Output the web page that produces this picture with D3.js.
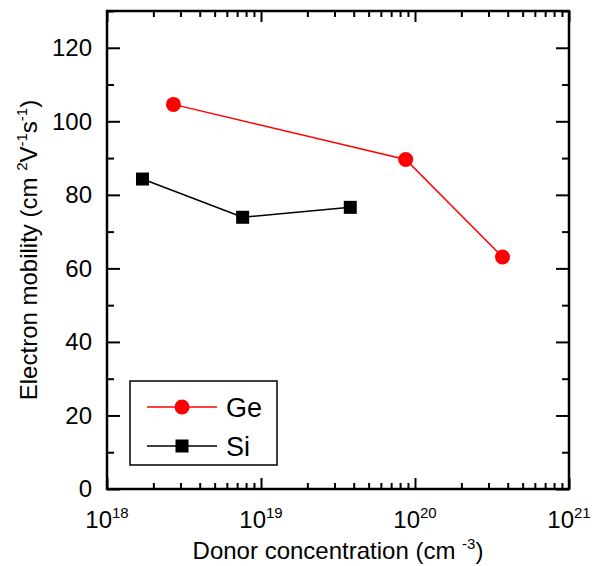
<!DOCTYPE html>
<html>
<head>
<meta charset="utf-8">
<script src="https://cdn.jsdelivr.net/npm/d3@7"></script>
<style>
  body { margin: 0; background: #fff; }
  svg { display: block; font-family: "Liberation Sans", Arial, Helvetica, sans-serif; }
</style>
</head>
<body>
<div id="chart"></div>
<script>
// values
const geConc = [2.7e18, 8.7e19, 3.7e20];
const geMob = [104.6, 89.6, 63.1];
const siConc = [1.7e18, 7.6e18, 3.8e19];
const siMob = [84.3, 73.9, 76.6];
const yMajor = [0, 20, 40, 60, 80, 100, 120];
const yMinor = [10, 30, 50, 70, 90, 110, 130];
const xMajor = [1e18, 1e19, 1e20, 1e21];
const xExp = ["18", "19", "20", "21"];
const series = [
  {name: "Ge", conc: geConc, mob: geMob, color: "#ff0000", shape: "circle"},
  {name: "Si", conc: siConc, mob: siMob, color: "#000000", shape: "square"}
];

let W = 600, H = 566,
  m = {left: 107, right: 31, top: 11, bottom: 77},
  svg = d3.select("#chart").append("svg")
    .attr("width", W).attr("height", H),
  x = d3.scaleLog().domain([1e18, 1e21]).range([m.left, W - m.right]),
  y = d3.scaleLinear().domain([0, 130]).range([H - m.bottom, m.top]),
  xMinor = x.ticks().filter(d => xMajor.indexOf(d) < 0);

function tickAxis(axis, vals, size, at) {
  let g = svg.append("g").attr("transform", at)
    .call(axis.tickValues(vals).tickSize(size).tickFormat(""));
  g.select(".domain").remove();
  g.selectAll(".tick line").attr("stroke", "#000").attr("stroke-width", 2);
  return g;
}

// ticks, all pointing into the plot
let bottomT = "translate(0," + y(0) + ")", topT = "translate(0," + m.top + ")",
  leftT = "translate(" + m.left + ",0)", rightT = "translate(" + (W - m.right) + ",0)";
tickAxis(d3.axisBottom(x), xMajor, -11, bottomT);
tickAxis(d3.axisBottom(x), xMinor, -6, bottomT);
tickAxis(d3.axisTop(x), xMajor, -11, topT);
tickAxis(d3.axisTop(x), xMinor, -6, topT);
tickAxis(d3.axisLeft(y), yMajor, -13, leftT);
tickAxis(d3.axisLeft(y), yMinor, -7, leftT);
tickAxis(d3.axisRight(y), yMajor, -13, rightT);
tickAxis(d3.axisRight(y), yMinor, -7, rightT);

// frame
svg.append("rect")
  .attr("x", m.left).attr("y", m.top)
  .attr("width", W - m.right - m.left).attr("height", y(0) - m.top)
  .attr("fill", "none").attr("stroke", "#000").attr("stroke-width", 2.5);

// y tick labels
svg.append("g").selectAll("text").data(yMajor).enter().append("text")
  .attr("x", m.left - 15).attr("y", d => y(d)).attr("dy", "0.35em")
  .attr("text-anchor", "end").attr("font-size", 24)
  .text(d => d);

// x tick labels 10^n
let xl = svg.append("g").selectAll("text").data(xMajor).enter().append("text")
  .attr("x", d => x(d)).attr("y", 528)
  .attr("text-anchor", "middle").attr("font-size", 24);
xl.append("tspan").text("10");
xl.append("tspan").attr("font-size", 15).attr("dy", -10).text((d, i) => xExp[i]);

// axis titles
let xt = svg.append("text")
  .attr("x", (m.left + W - m.right) / 2).attr("y", 559)
  .attr("text-anchor", "middle").attr("font-size", 24);
xt.append("tspan").text("Donor concentration (cm ");
xt.append("tspan").attr("font-size", 15).attr("dy", -10).text("-3");
xt.append("tspan").attr("dy", 10).text(")");

let yt = svg.append("text")
  .attr("transform", "translate(37," + (m.top + y(0)) / 2 + ") rotate(-90)")
  .attr("text-anchor", "middle").attr("font-size", 24);
yt.append("tspan").text("Electron mobility (cm ");
yt.append("tspan").attr("font-size", 15).attr("dy", -10).text("2");
yt.append("tspan").attr("dy", 10).text("V");
yt.append("tspan").attr("font-size", 15).attr("dy", -10).text("-1");
yt.append("tspan").attr("dy", 10).text("s");
yt.append("tspan").attr("font-size", 15).attr("dy", -10).text("-1");
yt.append("tspan").attr("dy", 10).text(")");

function marker(g, shape, color, cx, cy) {
  if (shape === "circle") {
    g.append("circle").attr("cx", cx).attr("cy", cy).attr("r", 7.5).attr("fill", color);
  } else {
    g.append("rect").attr("x", cx - 6.5).attr("y", cy - 6.5)
      .attr("width", 13).attr("height", 13).attr("fill", color);
  }
}

// series
let line = d3.line().x(d => x(d[0])).y(d => y(d[1]));
series.forEach(s => {
  let pts = s.conc.map((c, i) => [c, s.mob[i]]),
    g = svg.append("g");
  g.append("path").attr("d", line(pts))
    .attr("fill", "none").attr("stroke", s.color).attr("stroke-width", 1.5);
  pts.forEach(p => marker(g, s.shape, s.color, x(p[0]), y(p[1])));
});

// legend
let lg = svg.append("g");
lg.append("rect").attr("x", 130).attr("y", 381).attr("width", 147).attr("height", 84)
  .attr("fill", "#fff").attr("stroke", "#000").attr("stroke-width", 1.5);
series.forEach((s, i) => {
  let ly = 407 + i * 39;
  lg.append("line").attr("x1", 147).attr("x2", 217).attr("y1", ly).attr("y2", ly)
    .attr("stroke", s.color).attr("stroke-width", 1.5);
  marker(lg, s.shape, s.color, 182, ly);
  lg.append("text").attr("x", 226).attr("y", ly).attr("dy", "0.36em")
    .attr("font-size", 27).text(s.name);
});
</script>
</body>
</html>
